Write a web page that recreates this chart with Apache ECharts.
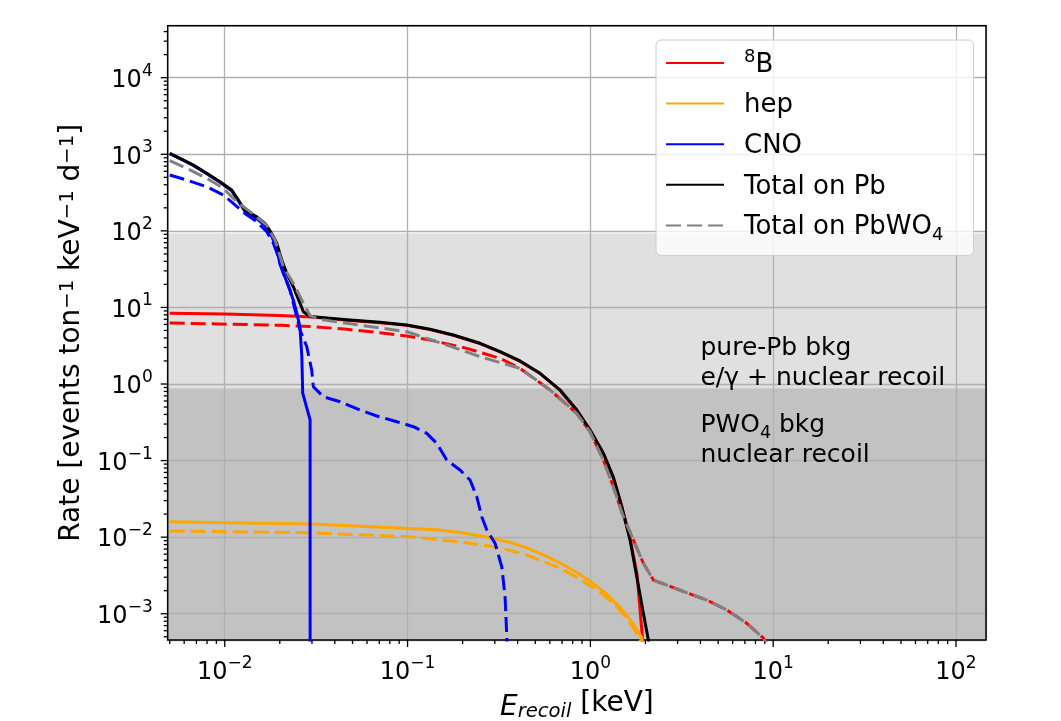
<!DOCTYPE html>
<html>
<head>
<meta charset="utf-8">
<script src="https://cdn.jsdelivr.net/npm/echarts@6/dist/echarts.min.js"></script>
<style>
  html, body { margin: 0; padding: 0; background: #ffffff; }
  #chart { width: 1061px; height: 721px; }
</style>
</head>
<body>
<div id="chart"></div>
<script>
// ---- axis ranges -------------------------------------------------------
const X_MIN = 0.004875, X_MAX = 145.9;     // keV
const Y_MIN = 4.54e-4, Y_MAX = 47750;      // events ton^-1 keV^-1 d^-1

// tick positions
const X_DECADES = [0.01, 0.1, 1, 10, 100];
const Y_DECADES = [1e-3, 1e-2, 1e-1, 1, 10, 100, 1e3, 1e4];
const MINOR_FACTORS = [2, 3, 4, 5, 6, 7, 8, 9];

// shaded background regions: [lower rate, upper rate]
const BAND_PB = [0.88, 92];
const BAND_PWO = [Y_MIN, 0.88];

// annotation anchors (energy, rate)
const NOTE_PB = [4, 2];
const NOTE_PWO = [4, 0.2];
const NOTE_TEXT = [
  '{t|pure-Pb bkg}\n{t|e/\u03b3 + nuclear recoil}',
  '{t|PWO}{u|4}{t| bkg}\n{t|nuclear recoil}'
];

// ---- spectra: [E_recoil (keV), rate] -----------------------------------
const B8_PB = [[0.005,8.4],[0.01,8.2],[0.02,7.85],[0.03,7.5],[0.0465,6.8],[0.0707,6.33],[0.099,5.83],[0.1327,5.13],[0.178,4.32],[0.2492,3.37],[0.3206,2.62],[0.4125,1.97],[0.5307,1.37],[0.6829,0.83],[0.8426,0.455],[0.9963,0.249],[1.178,0.124],[1.336,0.060],[1.485,0.0252],[1.649,0.0095],[1.80,0.0033],[1.93,4.6e-4],[1.945,3e-4]];

const B8_PBWO4 = [[0.005,6.26],[0.0205,5.84],[0.0305,5.6],[0.0465,5.18],[0.0707,4.67],[0.099,4.23],[0.1327,3.75],[0.2108,2.92],[0.3206,2.16],[0.4125,1.6],[0.6017,0.834],[0.8426,0.414],[0.9963,0.238],[1.178,0.1017],[1.336,0.0456],[1.515,0.0185],[1.719,0.0092],[1.95,0.00455],[2.211,0.00275],[2.618,0.00237],[3.368,0.00188],[4.332,0.00151],[5.574,0.00112],[7.17,7.5e-4],[8.84,4.8e-4],[9.6,3.5e-4]];

const HEP_PB = [[0.005,0.0159],[0.0103,0.0154],[0.0293,0.0148],[0.1032,0.0130],[0.15,0.0124],[0.194,0.0115],[0.2946,0.00965],[0.37,0.00845],[0.449,0.00724],[0.553,0.00588],[0.683,0.0046],[0.843,0.00346],[1.04,0.00248],[1.23,0.00179],[1.45,0.00121],[1.58,9.57e-4],[1.72,7.3e-4],[1.91,4.85e-4],[1.95,3.5e-4]];

const HEP_PBWO4 = [[0.005,0.012],[0.0103,0.0118],[0.0293,0.0114],[0.1032,0.0101],[0.194,0.0087],[0.2946,0.0075],[0.37,0.00665],[0.449,0.00584],[0.683,0.00392],[0.843,0.00299],[1.04,0.00219],[1.23,0.00162],[1.45,0.00112],[1.62,8.03e-4],[1.79,5.56e-4],[1.87,4.8e-4],[1.9,3.5e-4]];

const CNO_PB = [[0.005,1020],[0.00569,878],[0.00673,716],[0.00797,556],[0.00942,430],[0.01092,333],[0.01187,245],[0.0129,179],[0.01496,145],[0.0166,117],[0.01807,85],[0.01925,58],[0.0201,36],[0.0223,19],[0.0237,12.5],[0.0248,8.4],[0.0258,5.5],[0.0264,2.3],[0.0267,0.76],[0.0293,0.34],[0.02932,1e-4]];

const CNO_PBWO4 = [[0.005,536],[0.00619,461],[0.00797,377],[0.00982,294],[0.01138,218],[0.0129,169],[0.01496,132],[0.01698,97.4],[0.01845,68.8],[0.01964,45.9],[0.02092,27.9],[0.02276,16.9],[0.02582,5.07],[0.0281,3.07],[0.0299,1.52],[0.03052,0.922],[0.03463,0.682],[0.04275,0.587],[0.05497,0.457],[0.0679,0.382],[0.0873,0.322],[0.1076,0.277],[0.1274,0.227],[0.1444,0.168],[0.1638,0.1017],[0.1937,0.0752],[0.2197,0.0557],[0.2391,0.0337],[0.2546,0.01848],[0.2713,0.01239],[0.3011,0.0083],[0.3276,0.00411],[0.3415,0.00167],[0.349,5.0e-4],[0.351,3e-4]];

const TOTAL_PB = [[0.005,1030],[0.00569,886],[0.00673,724],[0.00797,564],[0.00942,438],[0.01092,341],[0.01187,253],[0.0129,187],[0.01496,153],[0.0166,125],[0.01807,92.9],[0.01925,68.8],[0.0205,41.6],[0.02184,27.9],[0.02373,18.6],[0.02582,11.3],[0.02692,8.8],[0.0293,7.6],[0.0465,6.88],[0.0707,6.39],[0.099,5.89],[0.1327,5.18],[0.178,4.36],[0.2492,3.40],[0.3206,2.64],[0.4125,2.0],[0.5307,1.38],[0.6829,0.834],[0.8426,0.457],[0.9963,0.2506],[1.178,0.1243],[1.336,0.0603],[1.485,0.02495],[1.649,0.00917],[1.794,0.00304],[1.95,0.00101],[2.076,4.53e-4],[2.11,3e-4]];

const TOTAL_PBWO4 = [[0.005,824],[0.00619,656],[0.00797,486],[0.00982,359],[0.01163,240],[0.01375,178],[0.01698,119],[0.01884,75.9],[0.02092,34],[0.02373,20.6],[0.02638,12.5],[0.0293,7.8],[0.033,7.0],[0.0465,6.2],[0.099,4.82],[0.1638,3.23],[0.2492,2.27],[0.4125,1.6],[0.6017,0.834],[0.8426,0.414],[0.9963,0.238],[1.178,0.1017],[1.336,0.0456],[1.515,0.0185],[1.719,0.0092],[1.95,0.00455],[2.211,0.00275],[2.618,0.00237],[3.368,0.00188],[4.332,0.00151],[5.574,0.00112],[7.17,7.5e-4],[8.84,4.8e-4],[9.6,3.5e-4]];

// ---- styling -------------------------------------------------------------
const FONT = 'DejaVu Sans';
const DASH = [15, 6];
const LW = 3;

// "10" with a raised exponent for decade ticks; blank elsewhere
function decadeLabel(v) {
  const e = Math.log10(v);
  const r = Math.round(e);
  if (Math.abs(e - r) > 1e-6) return '';
  const exp = r < 0 ? '\u2212' + (-r) : String(r);
  return '{b|10}{s|' + exp + '}';
}
const tickRich = {
  b: { fontFamily: FONT, fontSize: 24, color: '#000', lineHeight: 30, verticalAlign: 'bottom' },
  s: { fontFamily: FONT, fontSize: 17, color: '#000', lineHeight: 17, verticalAlign: 'top' }
};

// major and minor tick marks along both axes
const tickData = [];
X_DECADES.forEach(d => tickData.push([d, Y_MIN, 0, 1]));
Y_DECADES.forEach(d => tickData.push([X_MIN, d, 1, 1]));
[0.001, 0.01, 0.1, 1, 10, 100].forEach(d => MINOR_FACTORS.forEach(f => {
  const v = d * f;
  if (v > X_MIN && v < X_MAX) tickData.push([v, Y_MIN, 0, 0]);
}));
[1e-4, 1e-3, 1e-2, 1e-1, 1, 10, 100, 1e3, 1e4].forEach(d => MINOR_FACTORS.forEach(f => {
  const v = d * f;
  if (v > Y_MIN && v < Y_MAX) tickData.push([X_MIN, v, 1, 0]);
}));

function lineSeries(name, data, color, dashed) {
  return {
    type: 'line', name: name, data: data,
    symbol: 'none', showSymbol: false, clip: true, silent: true, z: 5,
    lineStyle: { color: color, width: LW, type: dashed ? DASH : 'solid', cap: 'butt', join: 'round' },
    itemStyle: { color: color },
    emphasis: { disabled: true },
    animation: false
  };
}

const chart = echarts.init(document.getElementById('chart'), null, { renderer: 'canvas' });

chart.setOption({
  animation: false,
  backgroundColor: '#ffffff',
  grid: {
    left: 167.7, right: 75, top: 25.7, bottom: 81,
    outerBoundsMode: 'none', containLabel: false,
    show: true, borderColor: '#000', borderWidth: 1.5, backgroundColor: 'transparent', z: 4
  },
  xAxis: {
    type: 'log', logBase: 10, min: X_MIN, max: X_MAX, z: 3,
    name: '{e|E}{r|recoil} [keV]',
    nameLocation: 'middle', nameGap: 42,
    nameTextStyle: {
      fontFamily: FONT, fontSize: 28, color: '#000',
      rich: {
        e: { fontFamily: FONT, fontSize: 28, fontStyle: 'italic', color: '#000', lineHeight: 36, verticalAlign: 'bottom' },
        r: { fontFamily: FONT, fontSize: 19.6, fontStyle: 'italic', color: '#000', lineHeight: 22, verticalAlign: 'bottom' }
      }
    },
    axisLine: { show: false },
    axisTick: { show: false },
    splitLine: { show: true, lineStyle: { color: '#b0b0b0', width: 1.3 } },
    axisLabel: {
      show: true, margin: 15, showMinLabel: false, showMaxLabel: false,
      formatter: decadeLabel, rich: tickRich
    }
  },
  yAxis: {
    type: 'log', logBase: 10, min: Y_MIN, max: Y_MAX, z: 3,
    name: 'Rate [events ton{s|\u22121} keV{s|\u22121} d{s|\u22121}]',
    nameLocation: 'middle', nameGap: 64,
    nameTextStyle: {
      fontFamily: FONT, fontSize: 28, color: '#000',
      rich: {
        s: { fontFamily: FONT, fontSize: 19.6, color: '#000', lineHeight: 20, verticalAlign: 'top' }
      }
    },
    axisLine: { show: false },
    axisTick: { show: false },
    splitLine: { show: true, lineStyle: { color: '#b0b0b0', width: 1.3 } },
    axisLabel: {
      show: true, margin: 15, showMinLabel: false, showMaxLabel: false,
      formatter: decadeLabel, rich: tickRich
    }
  },
  legend: {
    data: ['8B', 'hep', 'CNO', 'Total on Pb', 'Total on PbWO4'],
    orient: 'vertical', left: 656, top: 40, z: 10,
    itemWidth: 58, itemHeight: 14, itemGap: 10.6,
    padding: [8, 30, 11, 9],
    backgroundColor: 'rgba(255,255,255,0.8)',
    borderColor: '#cccccc', borderWidth: 1, borderRadius: 5,
    itemStyle: { opacity: 0 },
    selectedMode: false,
    formatter: function (name) {
      if (name === '8B') return '{s|8}{t|B}';
      if (name === 'Total on PbWO4') return '{t|Total on PbWO}{u|4}';
      return '{t|' + name + '}';
    },
    textStyle: {
      fontFamily: FONT, fontSize: 26, color: '#000', lineHeight: 30, padding: [0, 0, 0, 15],
      rich: {
        t: { fontFamily: FONT, fontSize: 26, color: '#000', lineHeight: 30, verticalAlign: 'bottom' },
        s: { fontFamily: FONT, fontSize: 18, color: '#000', lineHeight: 18, verticalAlign: 'top' },
        u: { fontFamily: FONT, fontSize: 18, color: '#000', lineHeight: 18, verticalAlign: 'bottom', padding: [0, 0, -4, 0] }
      }
    }
  },
  series: [
    {
      // shaded background regions
      type: 'custom', silent: true, z: 1, clip: true,
      data: [[BAND_PB[0], BAND_PB[1], 0], [BAND_PWO[0], BAND_PWO[1], 1]],
      dimensions: ['lo', 'hi', 'kind'],
      encode: { y: [0, 1] },
      renderItem: function (params, api) {
        const p0 = api.coord([X_MIN, api.value(1)]);
        const p1 = api.coord([X_MAX, api.value(0)]);
        return {
          type: 'rect',
          shape: { x: p0[0], y: p0[1], width: p1[0] - p0[0], height: p1[1] - p0[1] },
          style: { fill: api.value(2) === 0 ? '#e0e0e0' : '#c2c2c2' }
        };
      }
    },
    lineSeries('8B', B8_PB, '#ff0000', false),
    lineSeries('8B on PbWO4', B8_PBWO4, '#ff0000', true),
    lineSeries('hep', HEP_PB, '#ffa500', false),
    lineSeries('hep on PbWO4', HEP_PBWO4, '#ffa500', true),
    lineSeries('CNO', CNO_PB, '#0000ff', false),
    lineSeries('CNO on PbWO4', CNO_PBWO4, '#0000ff', true),
    lineSeries('Total on Pb', TOTAL_PB, '#000000', false),
    lineSeries('Total on PbWO4', TOTAL_PBWO4, '#808080', true),
    {
      // region notes
      type: 'custom', silent: true, z: 6, clip: false,
      data: [[NOTE_PB[0], NOTE_PB[1], 0], [NOTE_PWO[0], NOTE_PWO[1], 1]],
      encode: { x: 0, y: 1 },
      renderItem: function (params, api) {
        const p = api.coord([api.value(0), api.value(1)]);
        return {
          type: 'text', x: p[0], y: p[1],
          style: {
            text: NOTE_TEXT[api.value(2)],
            fill: '#000', fontFamily: FONT, fontSize: 25, lineHeight: 30,
            align: 'left', verticalAlign: 'middle',
            rich: {
              t: { fontFamily: FONT, fontSize: 25, fill: '#000', color: '#000', lineHeight: 30, verticalAlign: 'bottom' },
              u: { fontFamily: FONT, fontSize: 17.5, fill: '#000', color: '#000', lineHeight: 18, verticalAlign: 'bottom', padding: [0, 0, -5, 0] }
            }
          }
        };
      }
    },
    {
      // axis tick marks
      type: 'custom', silent: true, z: 4, clip: false,
      data: tickData,
      encode: { x: 0, y: 1 },
      renderItem: function (params, api) {
        const p = api.coord([api.value(0), api.value(1)]);
        const len = api.value(3) ? 7 : 4;
        const isY = api.value(2) === 1;
        return {
          type: 'line',
          shape: isY
            ? { x1: p[0] - len, y1: p[1], x2: p[0], y2: p[1] }
            : { x1: p[0], y1: p[1], x2: p[0], y2: p[1] + len },
          style: { stroke: '#000', lineWidth: 1.3 }
        };
      }
    }
  ]
});
</script>
</body>
</html>
